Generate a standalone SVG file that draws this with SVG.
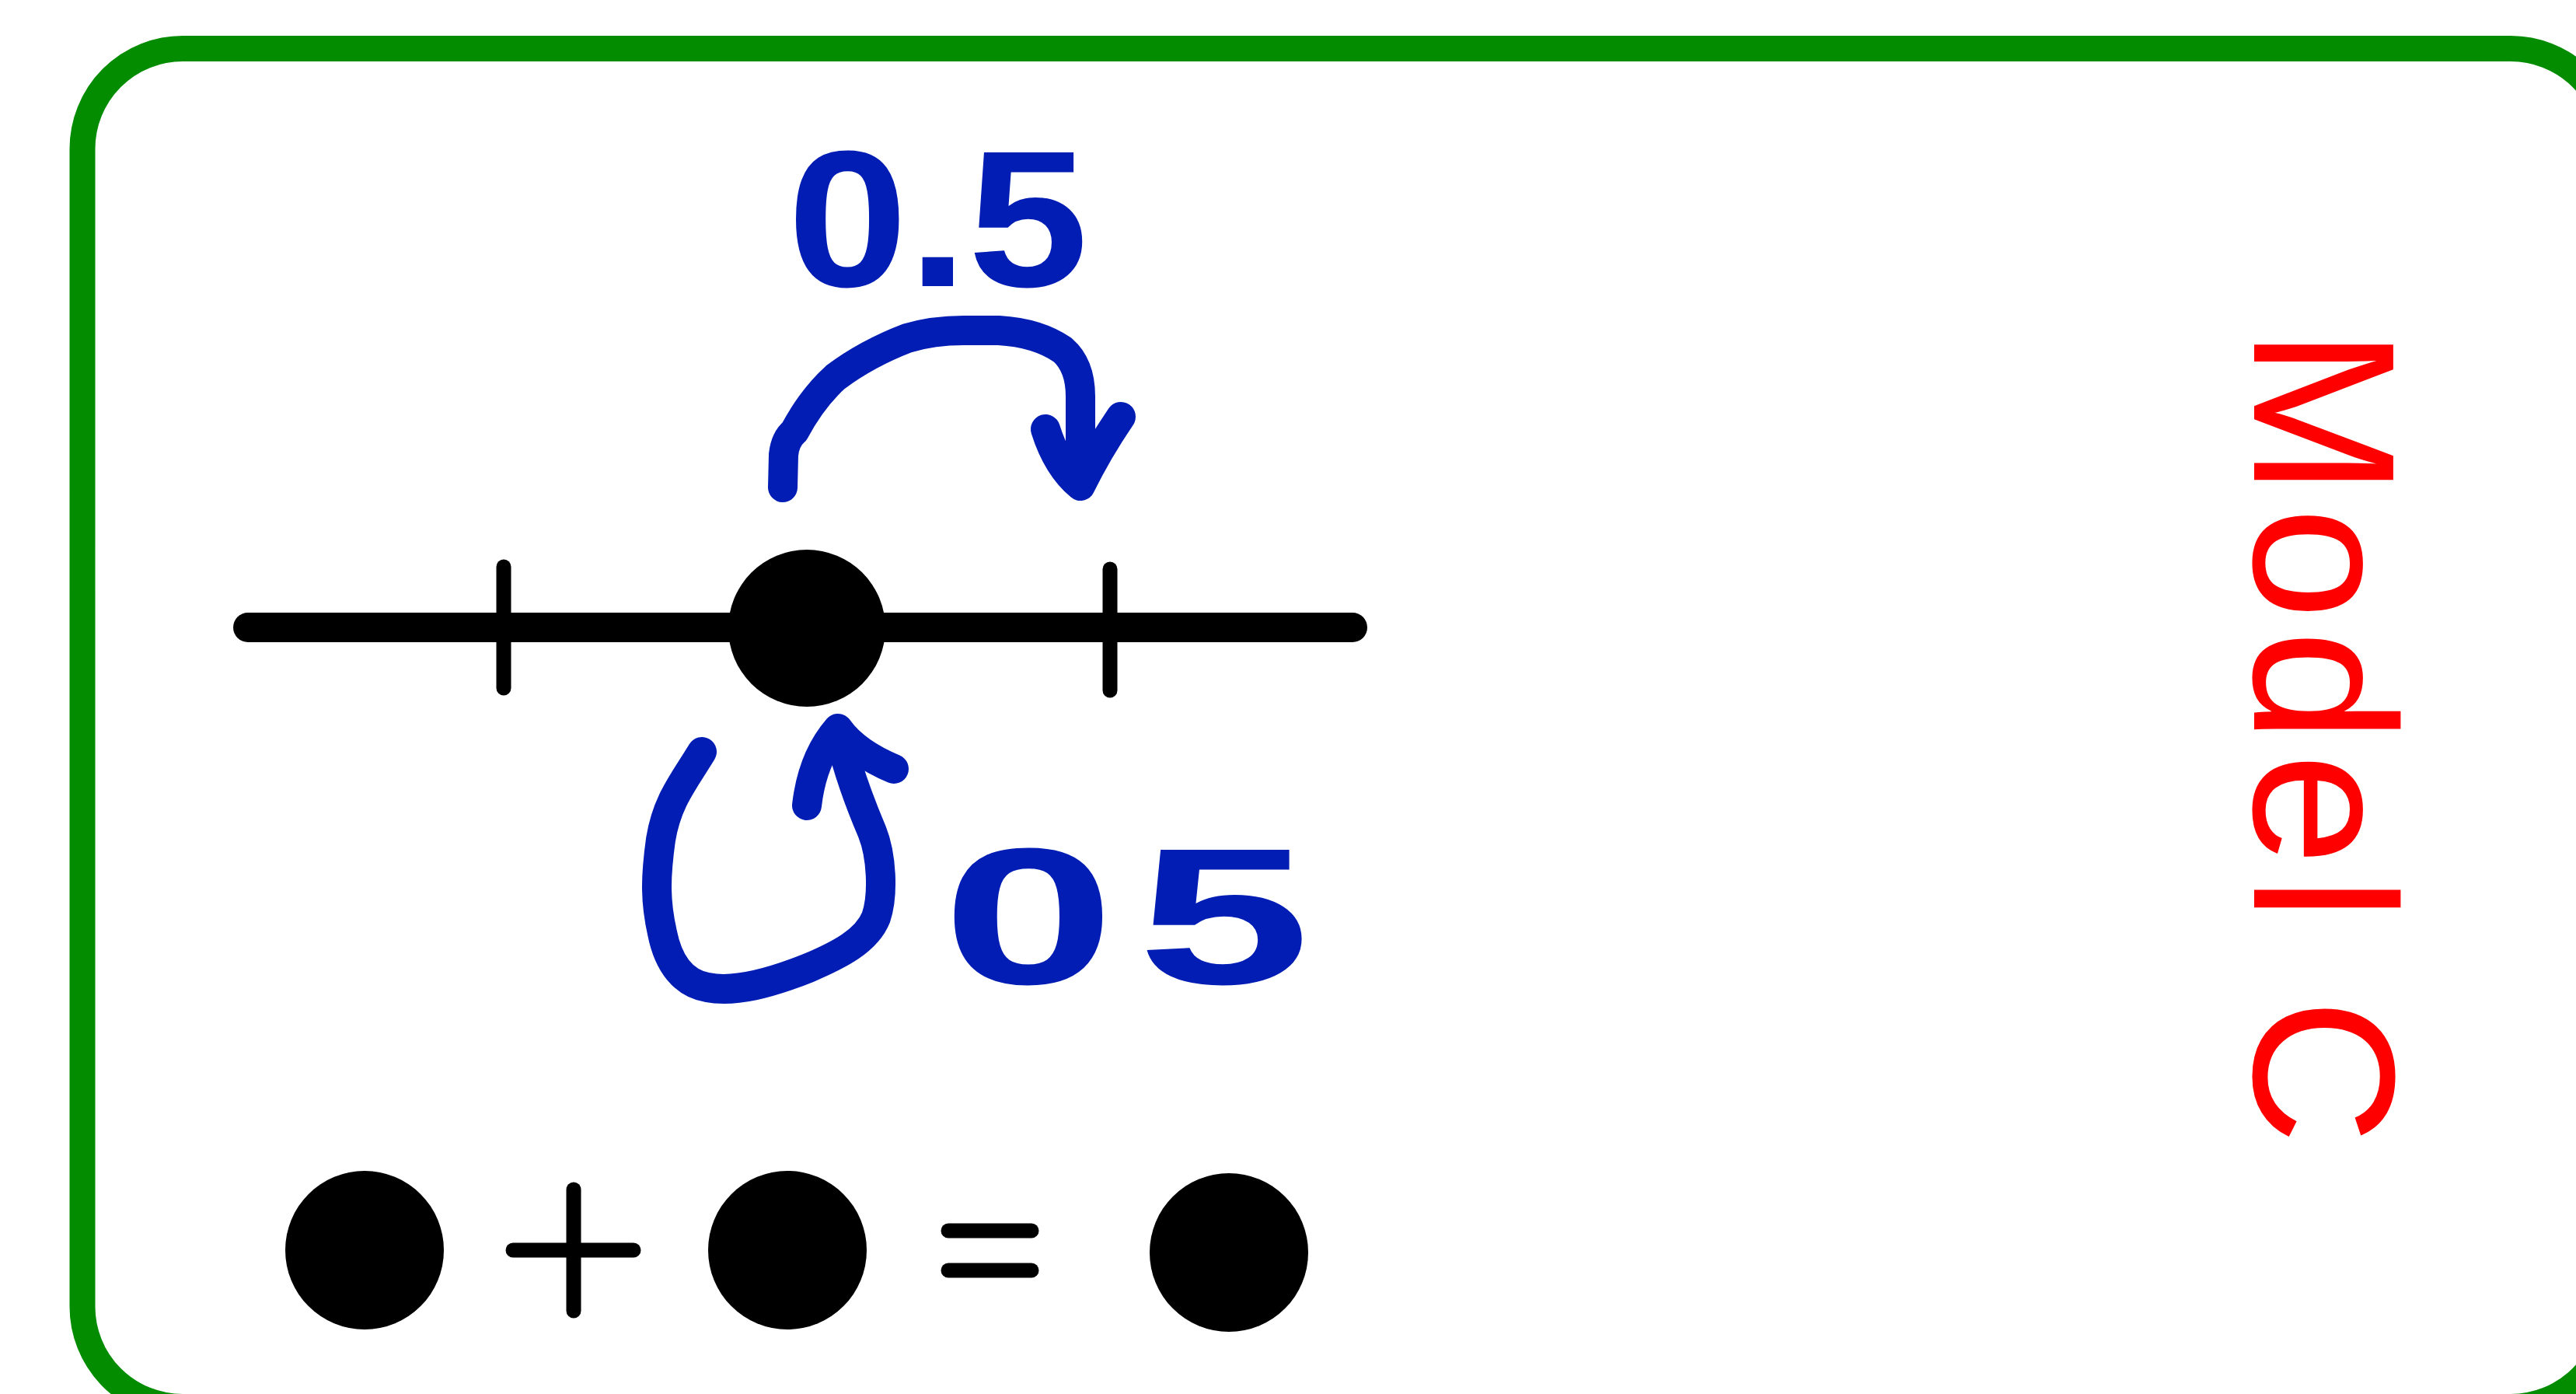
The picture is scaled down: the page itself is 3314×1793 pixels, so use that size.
<svg xmlns="http://www.w3.org/2000/svg" width="3314" height="1793" viewBox="0 0 3314 1793">
<style>
.ink{stroke:#000;stroke-linecap:round;fill:none}
.dot{fill:#000}
.blue{stroke:#011db4;stroke-width:38;stroke-linecap:round;stroke-linejoin:round;fill:none}
.num{font-family:"Liberation Sans",Arial,sans-serif;font-weight:bold;font-size:250px;fill:#011db4}
.title{font-family:"Liberation Sans",Arial,sans-serif;font-size:260px;fill:#ff0000}
</style>
<rect width="3314" height="1793" fill="#fff"/>
<g id="frame">
<rect x="106" y="62.5" width="3253" height="1747" rx="129" ry="129" fill="none" stroke="#038c00" stroke-width="33"/>
</g>
<g id="number-line">
<line class="ink" x1="319" y1="807" x2="1740" y2="807" stroke-width="38"/>
<line class="ink" x1="648" y1="729" x2="648" y2="885" stroke-width="19"/>
<line class="ink" x1="1428" y1="732" x2="1428" y2="888" stroke-width="19"/>
</g>
<g id="point">
<circle class="dot" cx="1038" cy="808" r="101"/>
</g>
<g id="label-top">
<text class="num" x="1013" y="368" textLength="387" lengthAdjust="spacingAndGlyphs">0.5</text>
</g>
<g id="label-bottom">
<text class="num" transform="translate(1212,1265) scale(1.6,1)" x="0" y="0" letter-spacing="18">05</text>
</g>
<g id="title">
<text class="title" transform="translate(2900,422) rotate(90)" x="0" y="0" textLength="1050">Model C</text>
</g>
<g id="sum-a"><circle class="dot" cx="469" cy="1608" r="102"/></g>
<g id="plus">
<line class="ink" x1="738" y1="1530" x2="738" y2="1686" stroke-width="19"/>
<line class="ink" x1="660" y1="1608" x2="815" y2="1608" stroke-width="19"/>
</g>
<g id="sum-b"><circle class="dot" cx="1013" cy="1608" r="102"/></g>
<g id="equals">
<line class="ink" x1="1220" y1="1583" x2="1327" y2="1583" stroke-width="19"/>
<line class="ink" x1="1220" y1="1634" x2="1327" y2="1634" stroke-width="19"/>
</g>
<g id="sum-result"><circle class="dot" cx="1581" cy="1611" r="102"/></g>
<g id="connectors">
<path class="blue" d="M1007,627 L1008,585 Q1010,565 1022,555 Q1045,512 1075,485 Q1115,455 1167,435 Q1200,425 1240,425 L1285,425 Q1335,428 1367,450 Q1390,470 1390,510 L1390,623"/>
<path class="blue" d="M1345,552 Q1360,600 1390,625 Q1412,580 1442,536"/>
<path class="blue" d="M903,967 C880,1005 858,1030 850,1080 C843,1130 843,1160 852,1200 C860,1240 880,1265 910,1270 C945,1277 990,1265 1040,1245 C1080,1228 1115,1210 1127,1180 C1137,1150 1134,1100 1122,1070 C1105,1030 1090,990 1080,945"/>
<path class="blue" d="M1038,1036 Q1045,975 1078,937 Q1100,968 1150,989"/>
</g>
</svg>
